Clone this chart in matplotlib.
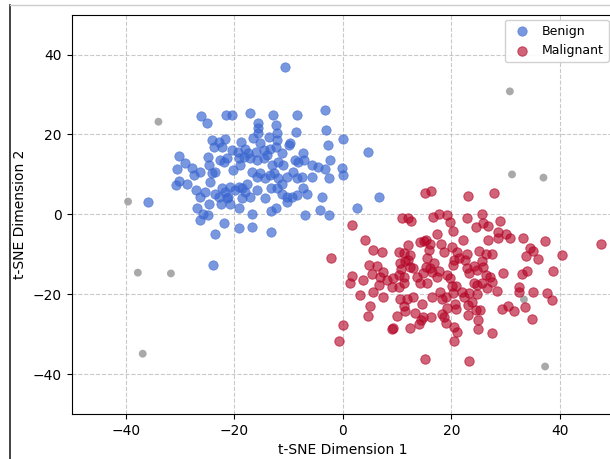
import matplotlib.pyplot as plt
from matplotlib.lines import Line2D

# t-SNE coordinates
benign_x = [-26.2, -21.5, -20.4, -17.1, -12.8, -8.4, -3.3, -25.0, -15.6, -12.3,
            -15.7, -15.6, -12.2, -8.7, -3.1, 0.1, -24.2, -22.9, -21.7, -18.7,
            -16.5, -15.2, -13.7, -12.2, -10.0, -9.8, -2.8, -23.8, -22.3, -20.5,
            -19.4, -18.0, -17.4, -16.0, -14.6, -13.4, -12.3, -11.3, -7.3, -30.3,
            -29.1, -27.8, -30.6, -30.7, -30.3, -28.8, -27.5, -26.3, -24.8, -24.6,
            -24.2, -23.5, -22.6, -22.0, -21.4, -20.2, -19.2, -18.9, -18.3, -17.1,
            -15.9, -14.6, -14.0, -13.1, -11.9, -11.1, -8.9, -8.2, -7.1, -5.7,
            -4.5, -3.3, -2.3, -0.2, 0.1, -27.0, -26.3, -25.4, -24.5, -23.5,
            -22.9, -22.3, -21.7, -21.1, -20.8, -19.9, -19.2, -18.6, -18.0, -17.6,
            -16.8, -15.9, -15.2, -14.3, -13.4, -12.7, -11.9, -11.3, -10.3, -9.1,
            -8.5, -7.6, -5.7, -2.6, -17.1, -15.9, -14.3, -13.3, -12.2, -11.3,
            -10.3, -9.4, -8.5, -7.3, -6.6, -3.9, -26.9, -25.7, -24.8, -24.6,
            -22.5, -21.4, -20.8, -19.2, -18.6, -16.8, -13.3, -12.3, -10.3, -6.9,
            -4.2, -2.6, -26.4, -23.5, -22.0, -19.1, -16.8, -13.3,
            -10.7, 4.7, 6.7, 2.6, -35.9, -23.9]
benign_y = [24.6, 24.9, 24.9, 25.3, 25.0, 24.9, 26.1, 22.8, 23.0, 22.3,
            21.5, 20.3, 20.3, 20.7, 21.1, 18.8, 18.6, 18.2, 18.8, 18.0,
            19.0, 17.9, 19.4, 18.6, 17.3, 17.8, 17.3, 16.8, 16.8, 16.1,
            15.7, 16.3, 15.3, 15.7, 16.1, 16.3, 16.8, 15.3, 15.3, 14.6,
            12.9, 11.5, 11.3, 7.3, 8.4, 7.7, 9.8, 10.7, 14.4, 12.3,
            10.3, 10.7, 13.6, 13.2, 14.0, 11.1, 14.0, 12.3, 14.4, 14.0,
            13.6, 14.0, 14.8, 12.3, 13.2, 12.3, 13.6, 13.2, 13.6, 12.3,
            11.8, 11.3, 13.6, 11.5, 9.8, 6.1, 4.4, 5.7, 8.2, 5.2,
            4.4, 6.5, 5.7, 4.4, 6.9, 6.1, 6.9, 6.5, 5.7, 7.7,
            10.7, 9.4, 10.3, 9.0, 9.8, 10.4, 9.0, 7.7, 9.4, 10.7,
            9.0, 9.4, 9.3, 9.0, 4.4, 6.1, 4.0, 6.5, 6.5, 5.2,
            4.4, 4.4, 4.8, 6.5, 5.2, 4.4, 1.5, 0.1, -0.2, 2.7,
            2.7, 4.0, 2.7, 1.5, 4.0, 0.2, 0.9, 1.5, 3.2, -0.2,
            1.1, -0.2, -1.4, -4.9, -2.1, -3.5, -3.1, -4.4,
            36.9, 15.6, 4.3, 1.5, 3.0, -12.8]

malignant_x = [15.2, 16.3, 23.0, 27.8, 10.9, 12.1, 12.5, 16.7, 17.8, 19.3,
               19.7, 22.9, 25.6, 24.6, 25.8, 26.8, 29.0, 1.7, 4.1, 5.6,
               7.2, 10.4, 11.2, 12.1, 12.4, 14.2, 14.9, 15.4, 16.1, 15.8,
               17.4, 18.1, 18.7, 20.1, 20.4, 21.0, 22.1, 22.5, 22.9, 25.1,
               26.4, 26.8, 27.5, 28.7, 28.7, 30.0, 30.8, 33.3, 34.5, 35.1,
               33.8, 35.9, 37.2, 40.4, 47.7, -2.2, 1.7, 1.3, 3.8, 4.9,
               5.3, 6.3, 6.8, 7.5, 8.2, 9.2, 10.3, 10.6, 11.5, 10.7,
               11.2, 12.1, 12.4, 13.0, 13.6, 14.7, 15.4, 15.6, 16.1, 16.4,
               16.8, 17.3, 17.8, 19.2, 19.8, 20.4, 20.5, 21.5, 22.9, 23.2,
               24.1, 24.7, 25.6, 25.9, 26.4, 27.2, 27.5, 25.6, 24.7, 29.6,
               33.0, 34.0, 38.7, 3.2, 5.5, 6.6, 7.5, 9.0, 10.3, 11.2,
               10.6, 11.8, 12.9, 14.2, 15.5, 16.4, 17.9, 18.2, 19.0, 20.1,
               20.9, 20.3, 21.9, 22.4, 23.2, 24.1, 24.7, 26.5, 28.4, 32.4,
               32.4, 35.1, 37.7, 38.6, 5.0, 4.7, 9.9, 11.3, 11.5, 13.3,
               14.6, 14.7, 14.4, 16.2, 18.2, 18.7, 19.0, 19.3, 20.7, 20.8,
               23.0, 23.0, 23.8, 24.5, 25.3, 25.0, 29.3, 30.5, 31.6, 33.6,
               34.8, 0.1, -0.7, 9.0, 9.2, 12.3, 14.1, 20.5, 21.1, 20.5,
               25.0, 27.5, 15.2, 23.3]
malignant_y = [5.4, 5.9, 4.6, 5.4, -0.8, -1.0, -1.6, -0.6, 0.1, -0.2,
               -1.8, -1.0, 0.0, -3.1, -2.1, -2.9, -1.7, -2.7, -6.4, -8.9,
               -9.4, -9.4, -9.8, -7.7, -10.2, -6.8, -6.6, -6.4, -7.3, -8.9,
               -5.0, -7.3, -9.4, -8.1, -4.2, -9.4, -6.4, -11.4, -9.9, -9.1,
               -9.9, -6.3, -9.9, -6.0, -4.3, -4.8, -5.8, -5.8, -8.5, -9.2,
               -10.4, -11.3, -6.7, -10.2, -7.5, -10.9, -15.4, -17.1, -16.4, -12.7,
               -14.9, -12.9, -15.6, -14.4, -16.4, -16.0, -15.2, -12.3, -11.8, -13.8,
               -15.6, -11.4, -13.1, -13.5, -15.6, -14.8, -13.3, -11.0, -13.5, -14.4,
               -12.3, -15.6, -14.1, -15.2, -16.0, -12.7, -11.4, -11.0, -13.5, -14.6,
               -12.9, -13.9, -11.8, -13.3, -15.2, -15.6, -16.9, -17.3, -17.7, -14.6,
               -14.9, -14.1, -14.1, -20.2, -19.4, -17.7, -20.6, -18.1, -18.1, -17.3,
               -21.2, -21.3, -20.8, -17.1, -17.1, -20.6, -19.4, -21.3, -20.8, -17.9,
               -17.9, -19.6, -19.4, -20.6, -19.8, -17.3, -19.9, -18.5, -19.2, -18.1,
               -19.4, -19.5, -19.8, -21.5, -23.0, -25.5, -25.4, -23.0, -24.1, -24.8,
               -22.5, -25.6, -26.5, -25.6, -25.0, -25.6, -27.1, -23.5, -22.5, -23.8,
               -22.7, -25.2, -21.9, -24.0, -24.0, -26.5, -23.7, -22.9, -24.2, -23.3,
               -26.3, -27.7, -31.7, -28.8, -28.5, -28.4, -27.5, -28.1, -29.4, -31.7,
               -28.8, -29.8, -36.3, -36.6]

outlier_x = [-34.0, -39.6, -37.8, -31.7, -36.9, 30.8, 31.2, 37.0, 33.4, 37.3]
outlier_y = [23.2, 3.2, -14.6, -14.8, -34.9, 30.8, 10.0, 9.2, -21.3, -38.1]

fig = plt.figure(figsize=(6.1, 4.59), dpi=100)
ax = fig.add_axes([0.1175, 0.098, 0.889, 0.870])

ax.scatter(outlier_x, outlier_y, s=32, color='#9a9a9a', alpha=0.85,
           edgecolors='none', zorder=2)
ax.scatter(benign_x, benign_y, s=46, color='#3a66d0', alpha=0.68,
           linewidths=0.5, label='Benign', zorder=3)
ax.scatter(malignant_x, malignant_y, s=46, color='#b40426', alpha=0.62,
           linewidths=0.7, label='Malignant', zorder=3)

ax.set_xlim(-50, 50)
ax.set_ylim(-50, 50)
ax.set_xticks([-40, -20, 0, 20, 40])
ax.set_yticks([-40, -20, 0, 20, 40])
ax.grid(True, linestyle='--', color='#bbbbbb', alpha=0.8, linewidth=0.8)
ax.set_axisbelow(True)
ax.set_xlabel('t-SNE Dimension 1')
ax.set_ylabel('t-SNE Dimension 2')
ax.spines['right'].set_visible(False)
ax.legend(loc='upper right', fontsize=9, framealpha=0.9, handletextpad=0.6,
          borderaxespad=0.4)

# screenshot frame lines
fig.add_artist(Line2D([10 / 610, 10 / 610], [0, 1 - 5 / 459],
                      transform=fig.transFigure, color='#222222', linewidth=1.2))
fig.add_artist(Line2D([10 / 610, 1], [1 - 5 / 459, 1 - 5 / 459],
                      transform=fig.transFigure, color='#cccccc', linewidth=1.0))

fig.savefig('out.png', dpi=100)
